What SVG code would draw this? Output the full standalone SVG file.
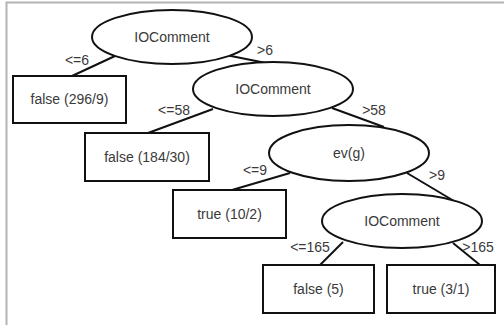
<svg xmlns="http://www.w3.org/2000/svg" width="504" height="325" viewBox="0 0 504 325">
<style>
.frame{fill:none;stroke:#b4b4b4;stroke-width:2}
.n{fill:#fff;stroke:#111;stroke-width:2}
.e{stroke:#111;stroke-width:2;fill:none}
text{font-family:"Liberation Sans",Arial,sans-serif;font-size:14px;fill:#3a3a3a}
.c{text-anchor:middle}
</style>
<rect width="504" height="325" fill="#fff"/>
<path class="frame" d="M6.5,325 V2.5 H504"/>
<g id="connectors">
<line class="e" x1="115" y1="56" x2="72" y2="76"/>
<line class="e" x1="226" y1="55" x2="266" y2="63"/>
<line class="e" x1="213" y1="109" x2="148" y2="133"/>
<line class="e" x1="332" y1="108" x2="384" y2="127"/>
<line class="e" x1="290" y1="173" x2="232" y2="190"/>
<line class="e" x1="407" y1="173" x2="454" y2="201"/>
<line class="e" x1="343" y1="242" x2="320" y2="265"/>
<line class="e" x1="453" y1="243" x2="480" y2="265"/>
<text x="77" y="65" class="c">&lt;=6</text>
<text x="265" y="55" class="c">&gt;6</text>
<text x="174" y="115" class="c">&lt;=58</text>
<text x="374" y="115" class="c">&gt;58</text>
<text x="255" y="175" class="c">&lt;=9</text>
<text x="437" y="180" class="c">&gt;9</text>
<text x="310" y="252" class="c">&lt;=165</text>
<text x="478" y="252" class="c">&gt;165</text>
</g>
<g id="n1"><ellipse class="n" cx="172" cy="37" rx="80" ry="27"/><text x="172" y="42" class="c">IOComment</text></g>
<g id="n2"><rect class="n" x="13" y="76" width="113" height="47"/><text x="69.5" y="104" class="c">false (296/9)</text></g>
<g id="n3"><ellipse class="n" cx="273" cy="89" rx="80" ry="27"/><text x="273" y="94" class="c">IOComment</text></g>
<g id="n4"><rect class="n" x="85" y="133" width="124" height="48"/><text x="147" y="162" class="c">false (184/30)</text></g>
<g id="n5"><ellipse class="n" cx="349" cy="153" rx="80" ry="28"/><text x="349" y="158" class="c">ev(g)</text></g>
<g id="n6"><rect class="n" x="173" y="190" width="113" height="48"/><text x="229.5" y="219" class="c">true (10/2)</text></g>
<g id="n7"><ellipse class="n" cx="402" cy="221" rx="80" ry="27"/><text x="402" y="226" class="c">IOComment</text></g>
<g id="n8"><rect class="n" x="263" y="265" width="111" height="48"/><text x="318.5" y="294" class="c">false (5)</text></g>
<g id="n9"><rect class="n" x="387" y="265" width="108" height="48"/><text x="441" y="294" class="c">true (3/1)</text></g>
</svg>
